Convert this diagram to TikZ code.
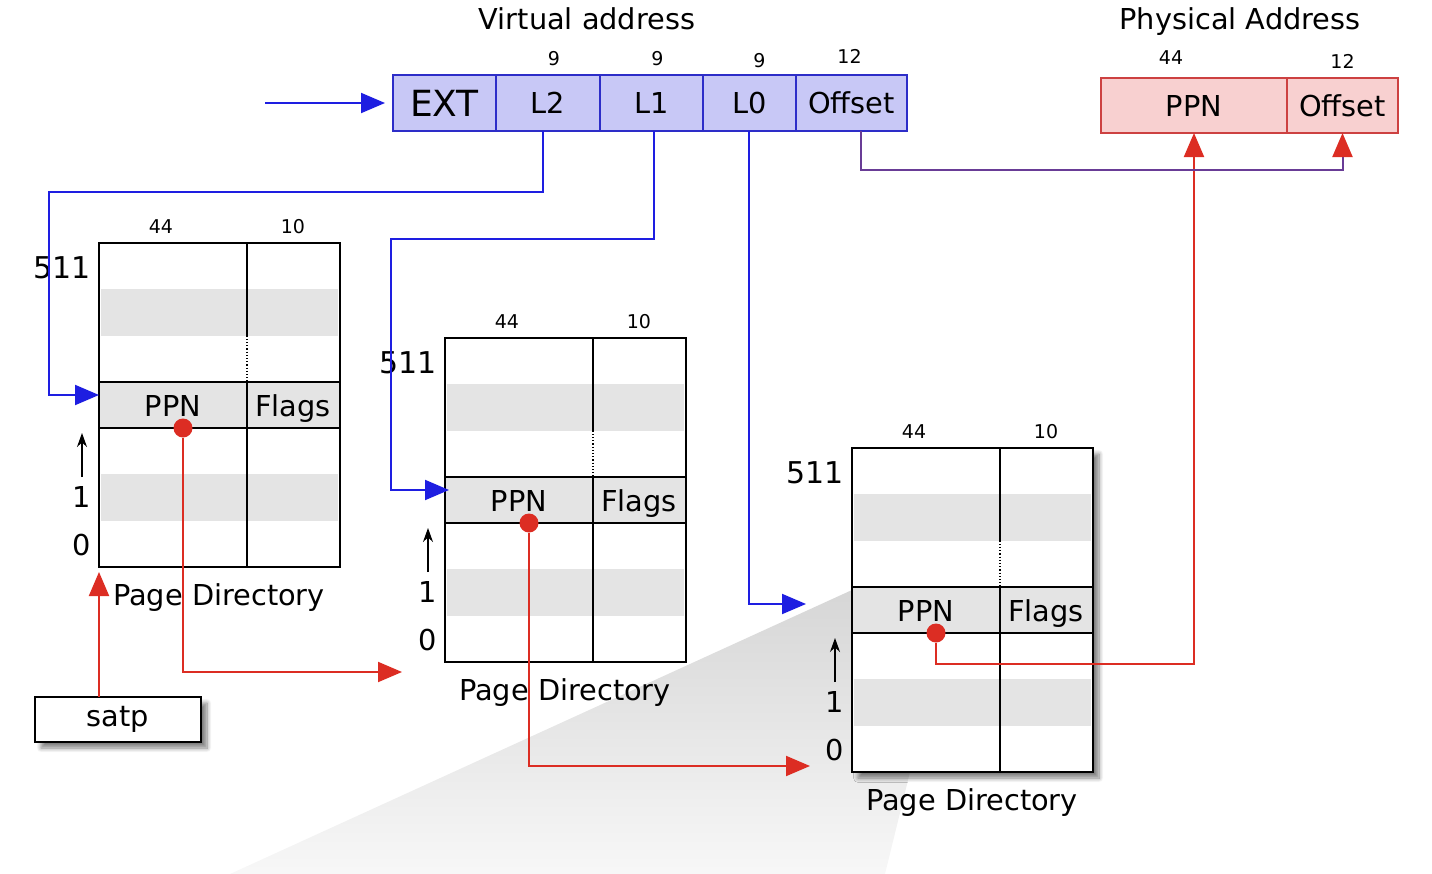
\documentclass[tikz,border=0pt]{standalone}
\usepackage{fontspec}
\setmainfont{DejaVu Sans}
\usetikzlibrary{positioning,arrows.meta,shadows.blur}
\definecolor{vfill}{RGB}{200,200,246}
\definecolor{vline}{RGB}{45,45,200}
\definecolor{varr}{RGB}{30,30,225}
\definecolor{pfill}{RGB}{248,208,208}
\definecolor{pline}{RGB}{205,65,65}
\definecolor{rarr}{RGB}{220,45,35}
\definecolor{offline}{RGB}{105,60,150}
\definecolor{stripe}{RGB}{228,228,228}
\tikzset{
  txt/.style={font=\fontsize{14.4}{17}\selectfont},
  small/.style={font=\fontsize{9.5}{11}\selectfont},
  vcell/.style={draw=vline, line width=1pt, fill=vfill, minimum height=28pt, inner sep=0pt, outer sep=0pt, txt},
  pcell/.style={draw=pline, line width=1pt, fill=pfill, minimum height=27.5pt, inner sep=0pt, outer sep=0pt, txt},
  varrow/.style={draw=varr, line width=1pt, -{Triangle[length=12pt,width=10pt]}},
  rarrow/.style={draw=rarr, line width=1pt, -{Triangle[length=12pt,width=10pt]}},
  uparrow/.style={line width=0.7pt, -{Stealth[length=7pt,width=5pt]}},
  dot/.style={circle, fill=rarr, inner sep=0pt, minimum size=9.5pt},
  pdline/.style={line width=1.1pt},
  noshade/.style={},
  tshade/.style={blur shadow={shadow xshift=3pt, shadow yshift=-3pt, shadow blur steps=8, shadow opacity=50}},
}
\begin{document}
\begin{tikzpicture}[x=0.5pt,y=-0.5pt]
    \useasboundingbox (0,0) rectangle (1432,874);
    % Wedge
    \shade[top color=gray!32, bottom color=gray!6] (852,590) -- (910,772) -- (885,874) -- (230,874) -- cycle;
    % Virtual address
    \node[txt, anchor=base] (vtitle) at (587,29) {Virtual address};
    \node[vcell, minimum width=51.5pt, font=\fontsize{18}{20}\selectfont] (vEXT) at (444.5,103) {EXT};
    \node[vcell, minimum width=52pt, right=0pt of vEXT] (vL2) {L2};
    \node[vcell, minimum width=51.5pt, right=0pt of vL2] (vL1) {L1};
    \node[vcell, minimum width=46.5pt, right=0pt of vL1] (vL0) {L0};
    \node[vcell, minimum width=55.5pt, right=0pt of vL0] (vOff) {Offset};
    \node[small, above=1pt of vL2.north, xshift=3pt] (bL2) {9};
    \node[small, above=1pt of vL1.north, xshift=3pt] (bL1) {9};
    \node[small, above=0pt of vL0.north, xshift=5pt] (bL0) {9};
    \node[small, above=2pt of vOff.north, xshift=-1pt] (bOff) {12};
    \coordinate (in) at (265,103);
    % Physical address
    \node[txt, anchor=base] (ptitle) at (1240,29) {Physical Address};
    \node[pcell, minimum width=93pt] (pPPN) at (1194,105.5) {PPN};
    \node[pcell, minimum width=55.5pt, right=0pt of pPPN] (pOff) {Offset};
    \node[small, above=3pt of pPPN.north, xshift=-11.5pt] (bPPN) {44};
    \node[small, above=1pt of pOff.north] (bPOff) {12};
    % Page directories
    \foreach \n/\x/\y/\sh in {t1/99/243/noshade, t2/445/338/noshade, t3/852/448/tshade} {
      \begin{scope}[shift={(\x,\y)}]
        \node[fill=white, minimum width=120.5pt, minimum height=162pt, inner sep=0pt, outer sep=0pt, \sh] (\n) at (120.5,162) {};
        \fill[stripe] (2,46.3) rectangle (239,92.6);
        \fill[stripe] (2,231.4) rectangle (239,277.7);
        \fill[stripe] (0,138.9) rectangle (241,185.1);
        \node[minimum width=120.5pt, minimum height=23.1pt, inner sep=0pt, outer sep=0pt] (\n-row) at (120.5,162) {};
        \draw[pdline] (0,138.9) -- (241,138.9) (0,185.1) -- (241,185.1);
        \draw[line width=0.9pt] (148,0) -- (148,92.6) (148,138.9) -- (148,324);
        \draw[line width=0.6pt, densely dotted] (148,92.6) -- (148,138.9);
        \draw[pdline] (\n.north west) rectangle (\n.south east);
        \node[txt, anchor=base] (\n-ppn) at (74,173) {PPN};
        \node[txt, anchor=base] (\n-flags) at (194,173) {Flags};
        \node[small] (\n-a) at (62,-16) {44};
        \node[small] (\n-b) at (194,-16) {10};
        \node[font=\fontsize{15}{17}\selectfont] (\n-top) at (-37,25) {511};
        \node[txt] (\n-one) at (-17,254) {1};
        \node[txt] (\n-zero) at (-17,302) {0};
        \draw[uparrow] (-17,234) -- (-17,190);
        \node[txt, anchor=base] (\n-cap) at (120,362) {Page Directory};
        \node[dot] (\n-dot) at (84,185) {};
      \end{scope}
    }
    % satp
    \node[draw, line width=1pt, fill=white, minimum width=83pt, minimum height=22.5pt, inner sep=0pt, outer sep=0pt, txt, tshade] (satp) at (118,719.5) {satp};
    % Blue arrows
    \draw[varrow] (in) -- ([xshift=-4pt]vEXT.west);
    \draw[varrow] ([xshift=-2.5pt]vL2.south) -- ++(0,61) -| ([xshift=-25pt,yshift=5pt]t1-row.west) -- ([yshift=5pt]t1-row.west);
    \draw[varrow] ([xshift=1.25pt]vL1.south) -- ++(0,108) -| ([xshift=-27pt,yshift=5pt]t2-row.west) -- ([xshift=2pt,yshift=5pt]t2-row.west);
    \draw[varrow] ([xshift=-0.25pt]vL0.south) |- ([xshift=-23pt,yshift=3pt]t3-row.west);
    % Red arrows
    \draw[rarrow] ([xshift=-9.5pt]satp.north) -- ([yshift=-2.5pt]t1.south west);
    \draw[rarrow] (t1-dot) |- ([xshift=-21.5pt,yshift=-5pt]t2.south west);
    \draw[rarrow] (t2-dot) |- ([xshift=-21pt,yshift=3pt]t3.south west);
    \draw[rarrow] (t3-dot) -- ++(0,31) -| (pPPN.south);
    \draw[draw=offline, line width=1pt, -{Triangle[length=12pt,width=10pt,color=rarr]}] ([xshift=4.75pt]vOff.south) -- ++(0,39) -| (pOff.south);
\end{tikzpicture}
\end{document}
